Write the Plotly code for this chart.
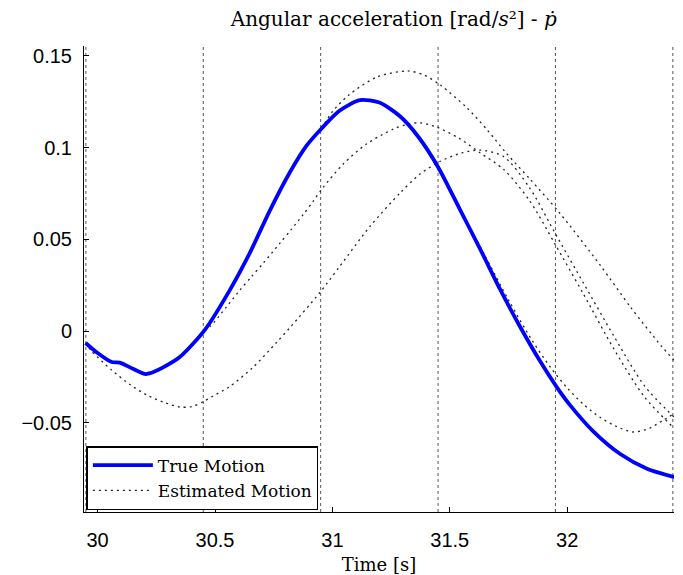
import plotly.graph_objects as go

# ---- data ----
true_t = [29.949, 30.00, 30.06, 30.094, 30.15, 30.20, 30.22, 30.273, 30.35, 30.456, 30.563,
          30.648, 30.733, 30.819, 30.89, 30.955, 31.03, 31.117, 31.20, 31.288, 31.365,
          31.45, 31.544, 31.63, 31.714, 31.80, 31.885, 31.957, 32.013, 32.11, 32.226,
          32.34, 32.456]
true_v = [-0.0065, -0.012, -0.0169, -0.0172, -0.0205, -0.0234, -0.0231, -0.0202, -0.0142, 0.0005, 0.0223,
          0.0425, 0.0655, 0.0865, 0.1010, 0.1105, 0.1200, 0.1258, 0.1245, 0.1170, 0.1060,
          0.0894, 0.0660, 0.0445, 0.0228, 0.0022, -0.0165, -0.0308, -0.0405, -0.0545, -0.0670,
          -0.0750, -0.0796]

estA_t = [29.949, 29.97, 30.06, 30.14, 30.21, 30.28, 30.35, 30.40, 30.45, 30.49, 30.56, 30.66,
          30.76, 30.82, 30.947, 31.03, 31.16, 31.288, 31.373, 31.46, 31.55, 31.63, 31.73,
          31.84, 31.95, 32.07, 32.20, 32.33, 32.456]
estA_v = [-0.0065, -0.0104, -0.0213, -0.0294, -0.0349, -0.0387, -0.0414, -0.0412, -0.0385, -0.0355, -0.0305, -0.0200,
          -0.0065, 0.002, 0.021, 0.035, 0.057, 0.0752, 0.0855, 0.0925, 0.097, 0.0986, 0.095,
          0.078, 0.053, 0.026, -0.003, -0.030, -0.047]

estB_t = [30.456, 30.478, 30.549, 30.606, 30.655, 30.705, 30.776, 30.826, 30.876, 30.918, 30.961,
          31.046, 31.146, 31.259, 31.316, 31.37, 31.446, 31.54, 31.63, 31.73, 31.84, 31.95,
          32.07, 32.20, 32.33, 32.456]
estB_v = [0.0005, 0.0023, 0.0132, 0.0223, 0.0296, 0.0369, 0.0478, 0.0555, 0.0635, 0.0707, 0.0783,
          0.0910, 0.1020, 0.1100, 0.1125, 0.1135, 0.111, 0.105, 0.097, 0.088, 0.071, 0.047,
          0.020, -0.010, -0.036, -0.053]

estC_t = [30.955, 31.00, 31.07, 31.19, 31.32, 31.39, 31.46, 31.57, 31.66, 31.74, 31.84, 31.97,
          32.14, 32.27, 32.40, 32.456]
estC_v = [0.1105, 0.1195, 0.1286, 0.1384, 0.1417, 0.1395, 0.134, 0.122, 0.1095, 0.097, 0.083, 0.064,
          0.036, 0.013, -0.008, -0.016]

estD_t = [31.45, 31.55, 31.65, 31.75, 31.85, 31.93, 32.00, 32.07, 32.14, 32.21, 32.28,
          32.35, 32.41, 32.456]
estD_v = [0.0894, 0.065, 0.041, 0.017, -0.005, -0.020, -0.031, -0.040, -0.047, -0.052, -0.055,
          -0.053, -0.0485, -0.045]

update_times = [29.95, 30.45, 30.95, 31.45, 31.95, 32.45]
x_ticks = [30, 30.5, 31, 31.5, 32]
y_ticks = [-0.05, 0, 0.05, 0.1, 0.15]
y_tick_text = ["\u22120.05", "0", "0.05", "0.1", "0.15"]

serif = "DejaVu Serif, Liberation Serif, serif"
sans = "Liberation Sans, Arial, sans-serif"

# the page body adds an 8px offset; the figure is sized so the plot lands where the reference has it
W, H = 675, 567

fig = go.Figure()

dot_style = dict(color="#222222", width=1.3, dash="2px,4px")
estimates = [(estA_t, estA_v), (estB_t, estB_v), (estC_t, estC_v), (estD_t, estD_v)]
for i, (t, v) in enumerate(estimates):
    fig.add_trace(go.Scatter(x=t, y=v, mode="lines", line=dict(shape="spline", smoothing=0.8, **dot_style),
                             name="Estimated Motion", showlegend=(i == 0), legendrank=2))

fig.add_trace(go.Scatter(x=true_t, y=true_v, mode="lines",
                         line=dict(color="#0000ff", width=3.8, shape="spline", smoothing=0.7),
                         name="True Motion", legendrank=1))

for t in update_times:
    fig.add_shape(type="line", xref="x", yref="paper", x0=t, x1=t, y0=0, y1=1,
                  line=dict(color="#555555", width=1, dash="dot"), layer="below")

fig.update_layout(
    width=W, height=H,
    margin=dict(l=76, r=9, t=38, b=63, autoexpand=False),
    paper_bgcolor="white", plot_bgcolor="white",
    title=dict(text="Angular acceleration [rad/<i>s</i>\u00b2] - <i>ṗ</i>",
               font=dict(family=serif, size=20, color="black"),
               x=0.525, xref="paper", xanchor="center", y=1 - 11 / H, yref="container", yanchor="middle"),
    showlegend=True,
    legend=dict(x=0.004, y=0.004, xanchor="left", yanchor="bottom",
                bgcolor="white", bordercolor="black", borderwidth=1.5,
                font=dict(family=serif, size=17, color="black"),
                itemwidth=60, tracegroupgap=0),
)
fig.update_xaxes(range=[29.942, 32.455], tickvals=x_ticks, ticktext=[str(x) for x in x_ticks],
                 showgrid=False, zeroline=False, showline=True, linecolor="black", linewidth=1,
                 ticks="inside", ticklen=5, tickcolor="black", automargin=False, ticklabelstandoff=10,
                 tickfont=dict(family=sans, size=20, color="black"),
                 title=dict(text="Time [s]", font=dict(family=serif, size=18, color="black"), standoff=11))
fig.update_yaxes(range=[-0.0986, 0.1553], tickvals=y_ticks, ticktext=y_tick_text,
                 showgrid=False, zeroline=False, showline=True, linecolor="black", linewidth=1,
                 ticks="inside", ticklen=5, tickcolor="black", automargin=False, ticklabelstandoff=7,
                 tickfont=dict(family=sans, size=20, color="black"))

fig.write_html("out.html")
